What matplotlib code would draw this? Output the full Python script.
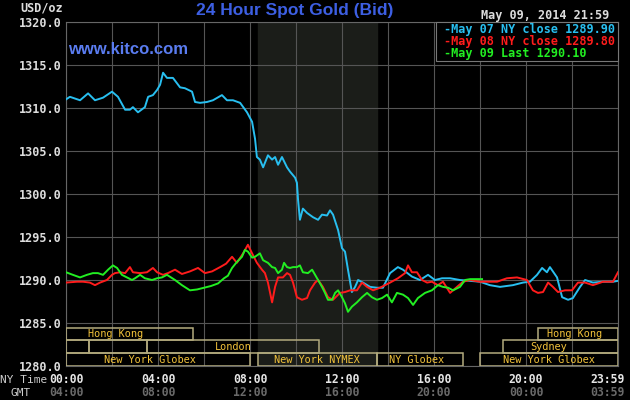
import matplotlib
matplotlib.use("Agg")
import matplotlib.pyplot as plt
from matplotlib.patches import Rectangle

# hours since 00:00 NY time, price in USD/oz
may07_t = [0.00, 0.17, 0.61, 0.96, 1.26, 1.61, 2.00, 2.26, 2.57, 2.78, 2.91, 3.13, 3.43, 3.57,
           3.78, 3.96, 4.09, 4.22, 4.39, 4.65, 4.96, 5.17, 5.48, 5.61, 5.83, 6.13, 6.39, 6.78,
           7.00, 7.26, 7.57, 7.87, 8.09, 8.22, 8.30, 8.43, 8.57, 8.78, 8.96, 9.09, 9.22, 9.39,
           9.61, 9.74, 9.96, 10.04, 10.09, 10.17, 10.30, 10.48, 10.74, 10.96, 11.13, 11.35,
           11.48, 11.61, 11.83, 12.00, 12.13, 12.26, 12.43, 12.57, 12.70, 12.91, 13.22, 13.52,
           13.78, 14.09, 14.43, 14.65, 15.04, 15.39, 15.74, 16.04, 16.35, 16.70, 17.13, 18.00,
           18.43, 18.87, 19.43, 19.87, 20.17, 20.48, 20.70, 20.91, 21.04, 21.35, 21.57, 21.83,
           22.04, 22.35, 22.57, 22.91, 23.35, 23.78, 24.00]
may07_v = [1311.0, 1311.3, 1310.9, 1311.7, 1310.9, 1311.2, 1311.9, 1311.3, 1309.8, 1309.8,
           1310.1, 1309.5, 1310.1, 1311.3, 1311.5, 1312.1, 1312.7, 1314.1, 1313.5, 1313.5,
           1312.4, 1312.3, 1311.9, 1310.7, 1310.6, 1310.7, 1310.9, 1311.5, 1310.9, 1310.9,
           1310.6, 1309.5, 1308.4, 1306.4, 1304.3, 1304.0, 1303.1, 1304.5, 1304.0, 1304.3,
           1303.4, 1304.3, 1303.1, 1302.6, 1301.9, 1301.3, 1299.3, 1297.0, 1298.3, 1297.8,
           1297.3, 1297.0, 1297.6, 1297.5, 1298.1, 1297.6, 1295.8, 1293.7, 1293.3, 1291.2,
           1288.6, 1289.2, 1290.0, 1289.7, 1289.2, 1289.1, 1289.1, 1290.8, 1291.5, 1291.2,
           1290.4, 1290.0, 1290.6, 1290.0, 1290.2, 1290.2, 1290.0, 1289.8, 1289.4, 1289.2,
           1289.4, 1289.7, 1289.8, 1290.6, 1291.4, 1290.9, 1291.5, 1290.3, 1288.0, 1287.7,
           1287.9, 1289.2, 1290.0, 1289.7, 1289.8, 1289.8, 1289.9]

may08_t = [0.00, 0.48, 0.74, 1.04, 1.26, 1.48, 1.78, 2.00, 2.13, 2.35, 2.57, 2.78, 2.91, 3.22,
           3.52, 3.78, 3.96, 4.22, 4.43, 4.74, 5.04, 5.39, 5.74, 6.04, 6.35, 6.70, 6.96, 7.22,
           7.43, 7.70, 7.91, 8.09, 8.30, 8.52, 8.65, 8.78, 8.96, 9.09, 9.22, 9.43, 9.61, 9.74,
           9.87, 10.04, 10.26, 10.48, 10.61, 10.83, 10.96, 11.17, 11.39, 11.61, 11.91, 12.13,
           12.35, 12.65, 12.87, 13.09, 13.35, 13.65, 14.09, 14.43, 14.74, 14.87, 15.04, 15.26,
           15.48, 15.70, 15.91, 16.17, 16.39, 16.70, 17.00, 17.26, 17.57, 18.00, 18.30, 18.74,
           19.17, 19.61, 20.04, 20.30, 20.52, 20.74, 20.96, 21.17, 21.39, 21.70, 22.00, 22.26,
           22.57, 22.91, 23.35, 23.78, 24.00]
may08_v = [1289.7, 1289.8, 1289.8, 1289.7, 1289.4, 1289.7, 1290.0, 1290.6, 1290.8, 1290.9,
           1290.8, 1291.5, 1290.9, 1290.8, 1290.9, 1291.4, 1290.9, 1290.6, 1290.8, 1291.2,
           1290.7, 1291.0, 1291.4, 1290.8, 1291.0, 1291.5, 1291.9, 1292.7, 1292.0, 1293.1,
           1294.1, 1293.1, 1292.0, 1291.2, 1290.8, 1289.7, 1287.4, 1289.2, 1290.3, 1290.3,
           1290.8, 1290.6, 1289.7, 1288.0, 1287.7, 1287.9, 1288.8, 1289.7, 1290.0, 1289.2,
           1288.0, 1287.7, 1288.5, 1288.6, 1288.8, 1288.8, 1289.7, 1289.2, 1288.8, 1289.1,
           1289.7, 1290.2, 1290.8, 1291.7, 1290.9, 1290.9, 1290.0, 1289.7, 1289.8, 1289.4,
           1289.8, 1288.5, 1289.2, 1289.8, 1290.0, 1289.8, 1289.8, 1289.8, 1290.2, 1290.3,
           1290.0, 1288.8, 1288.5, 1288.6, 1289.7, 1289.2, 1288.6, 1288.8, 1288.8, 1289.7,
           1289.7, 1289.4, 1289.8, 1289.8, 1290.9]

may09_t = [0.00, 0.30, 0.61, 0.91, 1.17, 1.39, 1.61, 1.83, 2.04, 2.22, 2.43, 2.65, 2.87, 3.00,
           3.22, 3.43, 3.74, 3.96, 4.17, 4.39, 4.74, 5.04, 5.39, 5.70, 6.00, 6.30, 6.61, 6.87,
           7.04, 7.22, 7.43, 7.65, 7.78, 7.91, 8.09, 8.22, 8.43, 8.57, 8.78, 8.96, 9.09, 9.22,
           9.39, 9.48, 9.61, 9.74, 9.87, 10.04, 10.17, 10.30, 10.52, 10.70, 10.83, 10.96, 11.13,
           11.26, 11.39, 11.57, 11.70, 11.83, 12.00, 12.13, 12.26, 12.43, 12.65, 12.87, 13.09,
           13.30, 13.52, 13.74, 13.96, 14.17, 14.39, 14.65, 14.87, 15.09, 15.30, 15.61, 15.91,
           16.17, 16.39, 16.61, 16.83, 17.13, 17.35, 17.57, 18.09]
may09_v = [1290.9, 1290.6, 1290.3, 1290.6, 1290.8, 1290.8, 1290.6, 1291.2, 1291.7, 1291.4,
           1290.6, 1290.3, 1290.0, 1290.2, 1290.6, 1290.2, 1290.0, 1290.2, 1290.3, 1290.6,
           1290.0, 1289.4, 1288.8, 1288.9, 1289.1, 1289.3, 1289.6, 1290.2, 1290.5, 1291.4,
           1292.1, 1292.7, 1293.5, 1293.3, 1292.6, 1292.7, 1293.1, 1292.3, 1292.0, 1291.5,
           1291.4, 1290.8, 1291.2, 1292.0, 1291.5, 1291.4, 1291.5, 1291.5, 1291.7, 1290.9,
           1290.8, 1291.2, 1290.6, 1290.0, 1289.2, 1288.5, 1287.7, 1287.7, 1288.5, 1288.8,
           1288.0, 1287.3, 1286.3, 1286.9, 1287.4, 1288.0, 1288.5, 1288.0, 1287.7, 1287.9,
           1288.3, 1287.4, 1288.5, 1288.3, 1287.9, 1287.1, 1287.9, 1288.5, 1288.8, 1289.4,
           1289.2, 1289.1, 1288.8, 1289.2, 1290.0, 1290.1, 1290.1]

ny_ticks = [0, 4, 8, 12, 16, 20, 23.55]
ny_labels = ["00:00", "04:00", "08:00", "12:00", "16:00", "20:00", "23:59"]
gmt_labels = ["04:00", "08:00", "12:00", "16:00", "20:00", "00:00", "03:59"]

# trading sessions: (row, start, end, label, label position)
sess_row = [0, 0, 1, 1, 1, 1, 2, 2, 2, 2]
sess_start = [0, 20.5, 0, 1, 3.5, 19, 0, 8.33, 13.5, 18]
sess_end = [5.5, 24, 1, 3.5, 11, 24, 8.0, 13.5, 17.25, 24]
sess_label = ["Hong Kong", "Hong Kong", "", "", "London", "Sydney",
              "New York Globex", "New York NYMEX", "NY Globex", "New York Globex"]
sess_lpos = [2.15, 22.1, 0, 0, 7.25, 21.0, 3.65, 10.9, 15.25, 21.0]

mono = "DejaVu Sans Mono"
bg = "#000000"

fig = plt.figure(figsize=(6.3, 4.0), dpi=100, facecolor=bg)
ax = fig.add_axes([66 / 630, 34 / 400, 552 / 630, 344 / 400], facecolor=bg)

ax.axvspan(8.33, 13.5, color="#1b1d19", zorder=0)
ax.set_xlim(0, 24)
ax.set_ylim(1280, 1320)
ax.set_xticks(range(0, 25, 2))
ax.set_yticks(range(1280, 1321, 5))
ax.grid(True, color="#555555", lw=0.8, zorder=1)
ax.tick_params(length=0, labelbottom=False)
ax.set_yticklabels(["%.1f" % v for v in range(1280, 1321, 5)],
                   family=mono, fontsize=8.5, color="#dddddd", weight="bold")
for s in ax.spines.values():
    s.set_color("#666666")
    s.set_linewidth(0.8)

ax.plot(may07_t, may07_v, color="#28bff0", lw=1.4, zorder=3)
ax.plot(may08_t, may08_v, color="#ff1c1c", lw=1.4, zorder=3)
ax.plot(may09_t, may09_v, color="#22ee22", lw=1.4, zorder=4)

# session boxes along the bottom
row_lo = [1283.0, 1281.5, 1280.0]
row_hi = [1284.4, 1283.0, 1281.5]
for r, a, b, lab, lp in zip(sess_row, sess_start, sess_end, sess_label, sess_lpos):
    ax.add_patch(Rectangle((a, row_lo[r]), b - a, row_hi[r] - row_lo[r], fill=False,
                           edgecolor="#b3ab7e", lw=1.1, zorder=5))
    if lab:
        ax.text(lp, (row_lo[r] + row_hi[r]) / 2, lab, ha="center", va="center",
                family=mono, fontsize=7.4, color="#f2c23a", zorder=6)

# time axis, NY time and GMT
tr = ax.get_xaxis_transform()
for t, a, b in zip(ny_ticks, ny_labels, gmt_labels):
    ax.text(t, -0.04, a, transform=tr, ha="center", va="center", family=mono,
            fontsize=8.3, color="#e6e6e6", weight="bold", clip_on=False)
    ax.text(t, -0.078, b, transform=tr, ha="center", va="center", family=mono,
            fontsize=8.3, color="#6a6a6a", weight="bold", clip_on=False)
fig.text(24 / 630, 1 - 380 / 400, "NY Time", ha="center", va="center", family=mono,
         fontsize=8, color="#cccccc")
fig.text(21 / 630, 1 - 393 / 400, "GMT", ha="center", va="center", family=mono,
         fontsize=8, color="#cccccc")

# legend box
ax.add_patch(Rectangle((0.670, 0.887), 0.33, 0.113, transform=ax.transAxes,
                       facecolor=bg, edgecolor="#777777", lw=0.8, zorder=7, clip_on=False))
leg_text = ["-May 07 NY close 1289.90", "-May 08 NY close 1289.80", "-May 09 Last 1290.10"]
leg_col = ["#28bff0", "#ff1c1c", "#22ee22"]
for i, (s, c) in enumerate(zip(leg_text, leg_col)):
    fig.text(444 / 630, 1 - (29 + 12.3 * i) / 400, s, ha="left", va="center", family=mono,
             fontsize=8.5, color=c, weight="bold", zorder=8)

fig.text(42 / 630, 1 - 8 / 400, "USD/oz", ha="center", va="center", family=mono,
         fontsize=8.5, color="#dddddd", weight="bold")
fig.text(295 / 630, 1 - 11 / 400, "24 Hour Spot Gold (Bid)", ha="center", va="center",
         family="Liberation Sans", fontsize=12.5, color="#3d5fe3", weight="bold")
fig.text(68 / 630, 1 - 49 / 400, "www.kitco.com", ha="left", va="center",
         family="Liberation Sans", fontsize=12, color="#5a7cf0", weight="bold", zorder=8)
fig.text(609 / 630, 1 - 15 / 400, "May 09, 2014 21:59", ha="right", va="center",
         family=mono, fontsize=8.5, color="#dddddd", weight="bold")

fig.savefig("out.png", dpi=100, facecolor=bg)
